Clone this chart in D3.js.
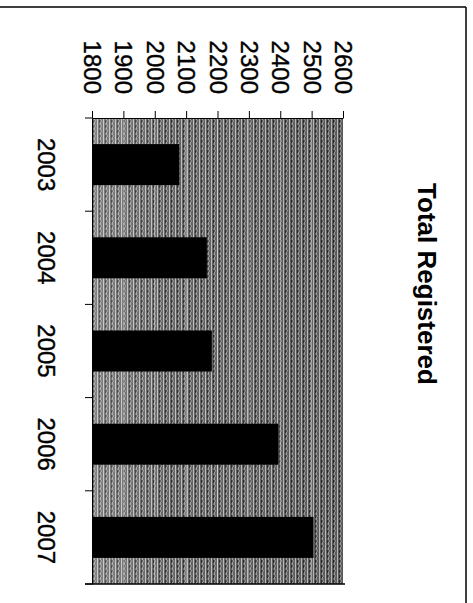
<!DOCTYPE html>
<html><head><meta charset="utf-8">
<script src="https://cdn.jsdelivr.net/npm/d3@7"></script>
<style>body{margin:0;background:#fff}svg{display:block}</style></head><body>
<script>
const years = ["2003","2004","2005","2006","2007"];
const registered = [2078, 2166, 2182, 2394, 2506];
const valueTicks = [1800,1900,2000,2100,2200,2300,2400,2500,2600];
const title = "Total Registered";

const W = 473, H = 603;
const svg = d3.select("body").append("svg").attr("width", W).attr("height", H);
const font = "Arial, 'Liberation Sans', sans-serif";

const x = d3.scaleLinear().domain([1800, 2600]).range([92, 343]);
const y = d3.scaleBand().domain(years).range([118, 584]).paddingInner(0.56).paddingOuter(0.28);

// dithered plot texture
const defs = svg.append("defs");
const pat = defs.append("pattern").attr("id", "dither").attr("patternUnits", "userSpaceOnUse")
  .attr("width", 6).attr("height", 5);
pat.append("rect").attr("width", 6).attr("height", 5).attr("fill", "#5e5e5e");
pat.append("rect").attr("x", 1).attr("width", 1).attr("height", 5).attr("fill", "#bdbdbd");
pat.append("rect").attr("x", 3).attr("width", 1).attr("height", 3).attr("fill", "#2a2a2a");
pat.append("rect").attr("x", 4).attr("y", 2).attr("width", 1).attr("height", 3).attr("fill", "#a0a0a0");
pat.append("rect").attr("x", 5).attr("y", 0).attr("width", 1).attr("height", 2).attr("fill", "#888");
const grad = defs.append("linearGradient").attr("id", "fade").attr("x1", 0).attr("x2", 1);
grad.append("stop").attr("offset", 0).attr("stop-color", "#fff").attr("stop-opacity", 0.22);
grad.append("stop").attr("offset", 0.3).attr("stop-color", "#fff").attr("stop-opacity", 0.04);
grad.append("stop").attr("offset", 1).attr("stop-color", "#000").attr("stop-opacity", 0.05);

// frame
svg.append("line").attr("x1", 0).attr("x2", 466).attr("y1", 7).attr("y2", 7).attr("stroke", "#000").attr("stroke-width", 1.5);
svg.append("line").attr("x1", 466).attr("x2", 466).attr("y1", 7).attr("y2", H).attr("stroke", "#000").attr("stroke-width", 1.5);

// plot area
const [r0, r1] = y.range();
svg.append("rect").attr("x", x(1800)).attr("y", r0).attr("width", x(2600) - x(1800)).attr("height", r1 - r0).attr("fill", "url(#dither)");
svg.append("rect").attr("x", x(1800)).attr("y", r0).attr("width", x(2600) - x(1800)).attr("height", r1 - r0).attr("fill", "url(#fade)");

// gridlines
svg.append("g").selectAll("line").data(valueTicks.slice(1, -1)).join("line")
  .attr("x1", d => x(d)).attr("x2", d => x(d)).attr("y1", r0).attr("y2", r1)
  .attr("stroke", "#e0e0e0").attr("stroke-opacity", 0.55);

// bars
svg.append("g").selectAll("rect").data(years).join("rect")
  .attr("x", x(1800)).attr("y", d => y(d))
  .attr("width", (d, i) => x(registered[i]) - x(1800))
  .attr("height", y.bandwidth()).attr("fill", "#000");

// value axis (top)
const ax = svg.append("g").attr("transform", `translate(0,${r0})`)
  .call(d3.axisTop(x).tickValues(valueTicks).tickSize(7).tickSizeOuter(0).tickFormat(d3.format("d")));
ax.select(".domain").attr("stroke", "#000");
ax.selectAll(".tick line").attr("stroke", "#000");
ax.selectAll("text").attr("transform", "rotate(90)").attr("text-anchor", "end")
  .attr("x", -24).attr("y", 0).attr("dy", "0.35em")
  .attr("font-family", font).attr("font-size", 24).attr("fill", "#000")
  .attr("stroke", "#000").attr("stroke-width", 0.4);

// category axis (left)
const ay = svg.append("g").attr("transform", `translate(${x(1800)},0)`)
  .call(d3.axisLeft(y).tickSize(0).tickSizeOuter(0));
ay.select(".domain").attr("stroke", "#000");
ay.selectAll("text").attr("transform", "rotate(90)").attr("text-anchor", "middle")
  .attr("x", 0).attr("y", 46).attr("dy", "0.35em")
  .attr("font-family", font).attr("font-size", 24).attr("fill", "#000")
  .attr("stroke", "#000").attr("stroke-width", 0.4);
const step = y.step(), half = step * y.paddingInner() / 2;
const bounds = years.map(d => y(d) - half).concat([y(years[years.length - 1]) + y.bandwidth() + half]);
svg.append("g").selectAll("line").data(bounds).join("line")
  .attr("x1", x(1800) - 7).attr("x2", x(1800)).attr("y1", d => d).attr("y2", d => d).attr("stroke", "#000");
svg.append("line").attr("x1", x(1800) - 7).attr("x2", x(2600) + 2).attr("y1", r1).attr("y2", r1).attr("stroke", "#000").attr("stroke-width", 1.5);

// title
svg.append("text").attr("transform", "translate(427,284) rotate(90)")
  .attr("text-anchor", "middle").attr("dy", "0.35em")
  .attr("font-family", font).attr("font-weight", "bold").attr("font-size", 26).text(title);
</script>
</body></html>
